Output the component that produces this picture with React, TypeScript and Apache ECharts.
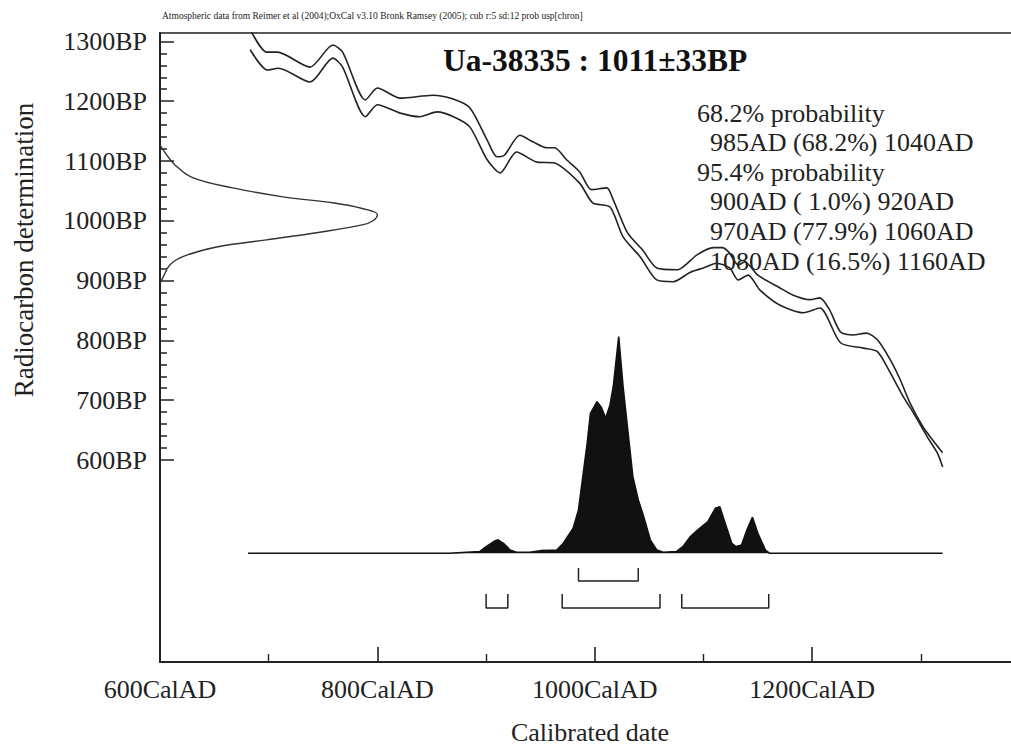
import React, { useEffect, useRef } from "react";
import * as echarts from "echarts";

const FONT = "'Liberation Serif', 'Times New Roman', serif";
const INK = "#222";

// Axis ranges
const X_MIN = 600;
const X_MAX = 1400;
const Y_MIN_BP = 262;
const Y_MAX_BP = 1314;
const TICK_BP_MIN = 600;
const TICK_BP_MAX = 1300;
const LABELED_X = [600, 800, 1000, 1200];

// Calibration curve (upper / lower 1-sigma envelope), [calAD, BP]
const curveUpper: [number, number][] = [
  [683, 1320], [698, 1282], [708, 1282], [738, 1257], [759, 1294], [768, 1282],
  [789, 1202], [800, 1222], [821, 1205], [851, 1210], [869, 1204], [885, 1189],
  [901, 1135], [910, 1107], [917, 1110], [931, 1143], [943, 1132], [956, 1122],
  [963, 1122], [974, 1102], [986, 1082], [997, 1052], [1011, 1055], [1017, 1035],
  [1030, 980], [1044, 951], [1057, 921], [1076, 918], [1094, 943], [1109, 955],
  [1117, 955], [1123, 948], [1132, 926], [1138, 931], [1150, 909], [1170, 888],
  [1182, 876], [1198, 868], [1207, 871], [1216, 851], [1226, 814], [1237, 809],
  [1250, 812], [1260, 801], [1272, 767], [1281, 734], [1290, 695], [1302, 655],
  [1311, 633], [1320, 612],
];
const curveLower: [number, number][] = [
  [683, 1286], [699, 1252], [709, 1255], [738, 1232], [759, 1272], [768, 1257],
  [789, 1174], [800, 1194], [821, 1180], [839, 1174], [855, 1182], [870, 1174],
  [885, 1157], [901, 1102], [913, 1080], [928, 1115], [947, 1098], [962, 1097],
  [986, 1063], [998, 1030], [1014, 1023], [1026, 973], [1042, 939], [1057, 901],
  [1072, 898], [1088, 914], [1100, 921], [1112, 929], [1124, 921], [1132, 901],
  [1141, 909], [1152, 884], [1170, 859], [1192, 846], [1207, 854], [1226, 796],
  [1247, 787], [1260, 781], [1272, 745], [1284, 705], [1293, 679], [1306, 638],
  [1315, 612], [1320, 588],
];

// Radiocarbon measurement distribution: [BP, height in calendar years from axis]
const measurementDist: [number, number][] = [
  [1127, 0], [1118, 3], [1093, 14], [1072, 30], [1055, 67], [1040, 113],
  [1030, 159], [1020, 187], [1010, 200], [1000, 196], [993, 186], [980, 144],
  [968, 98], [956, 52], [940, 21], [926, 9], [906, 3], [895, 0],
];

// Calibrated probability distribution: [calAD, relative probability]
const probDist: [number, number][] = [
  [681, 0], [866, 0], [894, 0.008], [900, 0.03], [907, 0.054], [911, 0.062],
  [916, 0.046], [922, 0.015], [928, 0.005], [940, 0.005], [950, 0.012],
  [965, 0.015], [971, 0.046], [980, 0.115], [985, 0.2], [989, 0.354],
  [993, 0.508], [996, 0.646], [1002, 0.7], [1006, 0.674], [1010, 0.623],
  [1014, 0.685], [1017, 0.77], [1022, 1.0], [1026, 0.77], [1031, 0.538],
  [1035, 0.354], [1040, 0.246], [1045, 0.169], [1051, 0.062], [1057, 0.015],
  [1063, 0.005], [1075, 0.008], [1081, 0.03], [1088, 0.077], [1094, 0.105],
  [1104, 0.146], [1111, 0.208], [1115, 0.215], [1120, 0.138], [1126, 0.046],
  [1130, 0.031], [1135, 0.038], [1140, 0.108], [1145, 0.166], [1150, 0.092],
  [1157, 0.015], [1161, 0], [1320, 0],
];
const PROB_MIN = -0.502;
const PROB_MAX = 2.402;

// Calibrated ranges
const ranges68: [number, number][] = [[985, 1040]];
const ranges95: [number, number][] = [[900, 920], [970, 1060], [1080, 1160]];
const level68: [number, number] = [-0.068, -0.128];
const level95: [number, number] = [-0.188, -0.253];

// Texts
const headerText =
  "Atmospheric data from Reimer et al (2004);OxCal v3.10 Bronk Ramsey (2005); cub r:5 sd:12 prob usp[chron]";
const sampleTitle = "Ua-38335 : 1011±33BP";
const statLines: { text: string; indent: boolean }[] = [
  { text: "68.2% probability", indent: false },
  { text: "985AD (68.2%) 1040AD", indent: true },
  { text: "95.4% probability", indent: false },
  { text: "900AD ( 1.0%) 920AD", indent: true },
  { text: "970AD (77.9%) 1060AD", indent: true },
  { text: "1080AD (16.5%) 1160AD", indent: true },
];
const xName = "Calibrated date";
const yName = "Radiocarbon determination";

function bracketSeries(ranges: [number, number][], level: [number, number]) {
  return ranges.map(([a, b]) => ({
    type: "line",
    xAxisIndex: 0,
    yAxisIndex: 1,
    symbol: "none",
    silent: true,
    lineStyle: { color: INK, width: 1.5 },
    data: [
      [a, level[0]],
      [a, level[1]],
      [b, level[1]],
      [b, level[0]],
    ],
  }));
}

export default function App() {
  const ref = useRef<HTMLDivElement>(null);
  useEffect(() => {
    if (!ref.current) return;
    const chart = echarts.init(ref.current, undefined, { renderer: "svg" });

    const textEls: any[] = [
      {
        type: "text",
        x: 162,
        y: 16,
        style: { text: headerText, fontSize: 9.5, fontFamily: FONT, fill: INK, align: "left", verticalAlign: "middle" },
      },
      {
        type: "text",
        x: 443,
        y: 60,
        style: { text: sampleTitle, fontSize: 31.5, fontWeight: "bold", fontFamily: FONT, fill: "#111", align: "left", verticalAlign: "middle" },
      },
      {
        type: "text",
        x: 24,
        y: 250,
        rotation: Math.PI / 2,
        style: { text: yName, fontSize: 27, fontFamily: FONT, fill: INK, align: "center", verticalAlign: "middle" },
      },
      {
        type: "text",
        x: 590,
        y: 732,
        style: { text: xName, fontSize: 26, fontFamily: FONT, fill: INK, align: "center", verticalAlign: "middle" },
      },
    ];
    statLines.forEach((l, i) => {
      textEls.push({
        type: "text",
        x: l.indent ? 710 : 697,
        y: 113 + i * 29.6,
        z: 10,
        style: { text: l.text, fontSize: 26, fontFamily: FONT, fill: INK, align: "left", verticalAlign: "middle" },
      });
    });

    const option: any = {
      animation: false,
      backgroundColor: "#fff",
      grid: [
        { left: 160, width: 869.6, top: 33, height: 629, outerBoundsMode: "none", containLabel: false },
        { left: 160, width: 869.6, top: 41.4, height: 418.6, outerBoundsMode: "none", containLabel: false },
      ],
      xAxis: [
        {
          type: "value",
          gridIndex: 0,
          position: "bottom",
          min: X_MIN,
          max: X_MAX,
          interval: 200,
          axisLine: { show: true, onZero: false, lineStyle: { color: INK, width: 2 } },
          axisTick: { show: true, inside: true, length: 15, lineStyle: { color: INK, width: 1.6 } },
          minorTick: { show: true, splitNumber: 2, length: 8, lineStyle: { color: INK, width: 1.4 } },
          axisLabel: {
            show: true,
            margin: 14,
            fontSize: 26,
            fontFamily: FONT,
            color: INK,
            formatter: (v: number) => (LABELED_X.includes(v) ? v + "CalAD" : ""),
          },
          splitLine: { show: false },
          minorSplitLine: { show: false },
        },
        {
          type: "value",
          gridIndex: 0,
          position: "top",
          min: X_MIN,
          max: X_MAX,
          axisLine: { show: true, onZero: false, lineStyle: { color: INK, width: 1.5 } },
          axisTick: { show: false },
          axisLabel: { show: false },
          splitLine: { show: false },
        },
        {
          type: "value",
          gridIndex: 1,
          min: X_MIN,
          max: X_MAX,
          show: false,
        },
      ],
      yAxis: [
        {
          type: "value",
          gridIndex: 0,
          min: Y_MIN_BP,
          max: Y_MAX_BP,
          axisLine: { show: true, onZero: false, lineStyle: { color: INK, width: 2 } },
          axisTick: { show: false },
          axisLabel: { show: false },
          splitLine: { show: false },
        },
        {
          type: "value",
          gridIndex: 0,
          min: PROB_MIN,
          max: PROB_MAX,
          show: false,
          axisLine: { onZero: false },
          splitLine: { show: false },
        },
        {
          type: "value",
          gridIndex: 1,
          min: TICK_BP_MIN,
          max: TICK_BP_MAX,
          interval: 100,
          axisLine: { show: false, onZero: false },
          axisTick: { show: true, inside: true, length: 14, lineStyle: { color: INK, width: 1.5 } },
          minorTick: { show: true, splitNumber: 5, length: 7, lineStyle: { color: INK, width: 1.5 } },
          axisLabel: {
            show: true,
            margin: 13,
            fontSize: 26,
            fontFamily: FONT,
            color: INK,
            formatter: (v: number) => v + "BP",
          },
          splitLine: { show: false },
          minorSplitLine: { show: false },
        },
      ],
      series: [
        {
          type: "line",
          xAxisIndex: 0,
          yAxisIndex: 0,
          symbol: "none",
          smooth: 0.25,
          lineStyle: { color: INK, width: 1.6 },
          data: curveUpper,
        },
        {
          type: "line",
          xAxisIndex: 0,
          yAxisIndex: 0,
          symbol: "none",
          smooth: 0.25,
          lineStyle: { color: INK, width: 1.6 },
          data: curveLower,
        },
        {
          type: "line",
          xAxisIndex: 0,
          yAxisIndex: 0,
          symbol: "none",
          smooth: 0.4,
          lineStyle: { color: "#333", width: 1.4 },
          data: measurementDist.map(([bp, h]) => [X_MIN + h, bp]),
        },
        {
          type: "line",
          xAxisIndex: 0,
          yAxisIndex: 1,
          symbol: "none",
          lineStyle: { color: "#111", width: 1.6 },
          areaStyle: { color: "#111", opacity: 1 },
          data: probDist,
        },
        ...bracketSeries(ranges68, level68),
        ...bracketSeries(ranges95, level95),
      ],
      graphic: { elements: textEls },
    };
    chart.setOption(option);
    return () => chart.dispose();
  }, []);

  return (
    <div
      ref={ref}
      style={{ position: "fixed", left: 0, top: 0, width: 1011, height: 748, background: "#fff" }}
    />
  );
}
